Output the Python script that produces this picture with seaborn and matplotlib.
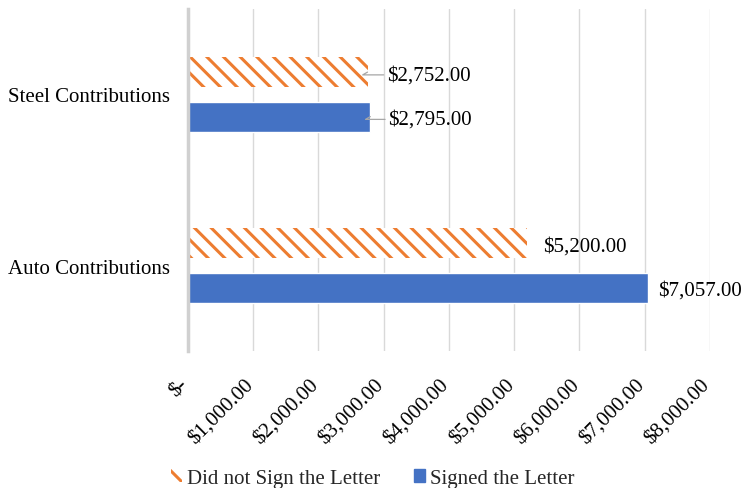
import matplotlib
matplotlib.use("Agg")
import matplotlib.pyplot as plt
from matplotlib.patches import Patch
from matplotlib.ticker import FuncFormatter, MultipleLocator
import seaborn as sns
import pandas as pd

categories = ["Steel Contributions", "Auto Contributions"]
groups = ["Did not Sign the Letter", "Signed the Letter"]
did_not_sign = [2752, 5200]
signed = [2795, 7057]

ORANGE = "#ED7D31"
BLUE = "#4472C4"
FS = 15

sns.set_theme(style="white")
plt.rcParams["font.family"] = ["Liberation Serif", "DejaVu Serif"]
plt.rcParams["hatch.linewidth"] = 2.2

df = pd.DataFrame({
    "category": categories * 2,
    "group": [groups[0]] * len(categories) + [groups[1]] * len(categories),
    "amount": did_not_sign + signed,
})

fig = plt.figure(figsize=(7.41, 4.89), dpi=100)
ax = fig.add_axes([0.2537, 0.28, 0.7043, 0.70])

sns.barplot(data=df, y="category", x="amount", hue="group",
            order=categories, hue_order=groups, palette=[ORANGE, BLUE],
            saturation=1, orient="h", width=0.52, gap=0.33, legend=False,
            ax=ax)

# diagonal stripes for the first series
for bar in ax.containers[0]:
    bar.set_facecolor("white")
    bar.set_edgecolor(ORANGE)
    bar.set_linewidth(0)
    bar.set_hatch("\\\\")

ax.set_xlim(0, 8000)
ax.set_ylim(1.5, -0.5)
ax.xaxis.set_major_locator(MultipleLocator(1000))
ax.xaxis.set_major_formatter(FuncFormatter(
    lambda v, p: "$-" if v == 0 else f"${v:,.2f}"))
ax.grid(axis="x", color="#D9D9D9", linewidth=1)
ax.set_axisbelow(True)
for s in ["top", "right", "bottom"]:
    ax.spines[s].set_visible(False)
ax.spines["left"].set_color("#D0D0D0")
ax.spines["left"].set_linewidth(2.5)
ax.set_xlabel("")
ax.set_ylabel("")
ax.tick_params(axis="both", length=0, labelsize=FS, labelcolor="black")
ax.tick_params(axis="y", pad=13)
ax.tick_params(axis="x", pad=24)
for lab in ax.get_xticklabels():
    lab.set_rotation(45)
    lab.set_ha("right")
    lab.set_va("baseline")
    lab.set_rotation_mode("anchor")

# value labels; the steel labels sit further out with short leader lines
offsets = [[14, 11.5], [13, 7]]
for gi, cont in enumerate(ax.containers):
    for ci, bar in enumerate(cont):
        val = bar.get_width()
        yc = bar.get_y() + bar.get_height() / 2
        kw = {}
        if ci == 0:
            kw["arrowprops"] = dict(arrowstyle="-", color="#A6A6A6", lw=0.9,
                                    shrinkA=0, shrinkB=0,
                                    connectionstyle="angle,angleA=0,angleB=30,rad=0")
        ax.annotate(f"${val:,.2f}", xy=(val, yc), xytext=(offsets[gi][ci], -2),
                    textcoords="offset points", ha="left", va="center",
                    fontsize=FS, color="black", **kw)

handles = [Patch(facecolor="white", edgecolor=ORANGE, hatch="\\\\", linewidth=0),
           Patch(facecolor=BLUE, edgecolor=BLUE)]
fig.legend(handles=handles, labels=groups, loc="center", ncol=2,
           bbox_to_anchor=(0.503, 0.02), frameon=False, fontsize=FS,
           handlelength=0.55, handleheight=0.55, handletextpad=0.25,
           columnspacing=1.6)

fig.savefig("out.png", dpi=100)
